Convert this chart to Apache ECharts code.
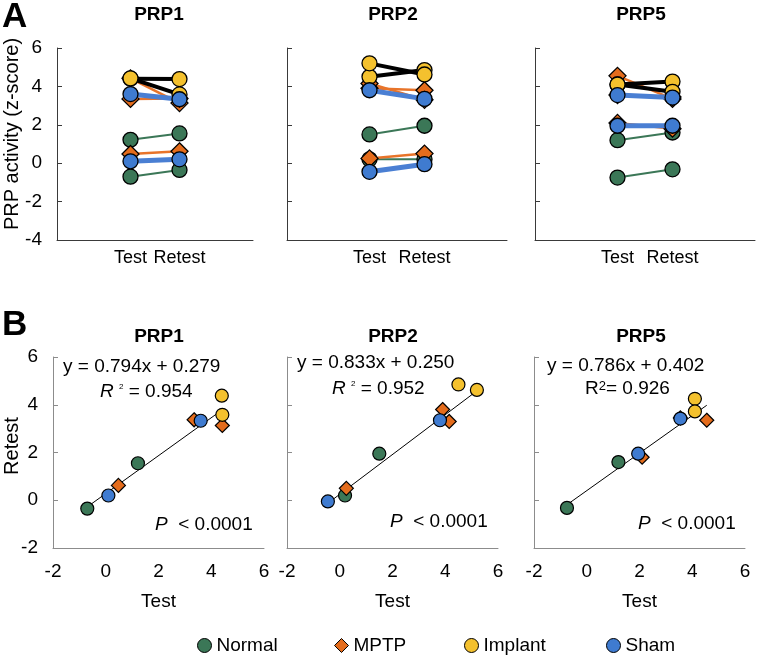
<!DOCTYPE html>
<html><head><meta charset="utf-8">
<script src="https://cdn.jsdelivr.net/npm/echarts@6/dist/echarts.min.js"></script>
<style>html,body{margin:0;padding:0;background:#fff}#c{width:757px;height:658px}</style>
</head><body><div id="c"></div>
<script>
// ---- data ----
const panels = ['PRP1', 'PRP2', 'PRP5'];
const groups = ['Normal', 'MPTP', 'Implant', 'Sham'];
const catLabels = ['', 'Test', 'Retest', ''];
const normalTest    = [[1.22, -0.70], [1.50, 0.20], [1.20, -0.75]];
const normalRetest  = [[1.55, -0.35], [1.95, 0.20], [1.60, -0.32]];
const mptpTest      = [[4.42, 3.35, 0.48], [3.90, 4.15, 0.25], [4.55, 3.55, 2.10]];
const mptpRetest    = [[3.13, 3.37, 0.62], [3.80, 3.30, 0.50], [3.35, 3.45, 1.80]];
const implantTest   = [[4.40, 4.42], [4.50, 5.20], [4.10, 4.10]];
const implantRetest = [[4.38, 3.58], [4.85, 4.62], [4.25, 3.72]];
const shamTest      = [[3.60, 0.10], [3.80, -0.45], [3.55, 1.95]];
const shamRetest    = [[3.33, 0.20], [3.35, -0.05], [3.42, 1.95]];
const slopes = [0.794, 0.833, 0.786];
const intercepts = [0.279, 0.250, 0.402];
const r2Values = ['0.954', '0.952', '0.926'];
const pValue = '0.0001';

// ---- styles ----
const FONT = '"Liberation Sans", Arial, sans-serif';
const fill = {Normal: '#3b7757', MPTP: '#e46c1c', Implant: '#f4c12e', Sham: '#3f7bd0'};
const lineCol = {Normal: '#3b7757', MPTP: '#e8742a', Implant: '#000000', Sham: '#4a7fd3'};
const lineW = {Normal: 2, MPTP: 2.5, Implant: 4, Sham: 5};
const sym = {Normal: 'circle', MPTP: 'diamond', Implant: 'circle', Sham: 'circle'};
const zOrd = {Normal: 2, MPTP: 3, Implant: 4, Sham: 5};
const testSets = {Normal: normalTest, MPTP: mptpTest, Implant: implantTest, Sham: shamTest};
const retestSets = {Normal: normalRetest, MPTP: mptpRetest, Implant: implantRetest, Sham: shamRetest};

const topGrids = [
  {left: 57, top: 48, width: 196, height: 192},
  {left: 287, top: 48, width: 220, height: 192},
  {left: 535, top: 48, width: 220, height: 192}
];
const botGrids = [
  {left: 53, top: 357, width: 211, height: 191},
  {left: 287, top: 357, width: 211, height: 191},
  {left: 534, top: 357, width: 211, height: 191}
];

const grid = [], xAxis = [], yAxis = [], series = [];
topGrids.forEach((g, p) => {
  grid.push(Object.assign({containLabel: false}, g));
  xAxis.push({
    gridIndex: p, type: 'category', data: catLabels, boundaryGap: true,
    axisLine: {onZero: false, lineStyle: {color: '#3a3a3a', width: 1}}, axisTick: {show: false},
    axisLabel: {fontSize: 18, color: '#000', fontFamily: FONT, margin: 9, interval: 0},
    splitLine: {show: false}
  });
  yAxis.push({
    gridIndex: p, type: 'value', min: -4, max: 6, interval: 2,
    axisLine: {show: true, onZero: false, lineStyle: {color: '#3a3a3a', width: 1}},
    axisTick: {show: true, inside: true, length: 5, lineStyle: {color: '#3a3a3a'}},
    axisLabel: {show: p === 0, fontSize: 19, color: '#000', fontFamily: FONT, margin: 15},
    splitLine: {show: false}
  });
});
botGrids.forEach((g, p) => {
  grid.push(Object.assign({containLabel: false}, g));
  xAxis.push({
    gridIndex: 3 + p, type: 'value', min: -2, max: 6, interval: 2,
    name: 'Test', nameLocation: 'middle', nameGap: 44,
    nameTextStyle: {fontSize: 19, color: '#000', fontFamily: FONT},
    axisLine: {show: true, onZero: false, lineStyle: {color: '#8c8c8c', width: 1}},
    axisTick: {show: false},
    axisLabel: {fontSize: 19, color: '#000', fontFamily: FONT, margin: 14},
    splitLine: {show: false}
  });
  yAxis.push({
    gridIndex: 3 + p, type: 'value', min: -2, max: 6, interval: 2,
    axisLine: {show: true, onZero: false, lineStyle: {color: '#8c8c8c', width: 1}},
    axisTick: {show: true, inside: true, length: 5, lineStyle: {color: '#8c8c8c'}},
    axisLabel: {show: p === 0, fontSize: 19, color: '#000', fontFamily: FONT, margin: 15},
    splitLine: {show: false}
  });
});

// scatter series first (legend picks them)
panels.forEach((name, p) => {
  groups.forEach(gName => {
    const t = testSets[gName][p], r = retestSets[gName][p];
    series.push({
      type: 'scatter', name: gName, xAxisIndex: 3 + p, yAxisIndex: 3 + p,
      symbol: sym[gName], symbolSize: gName === 'MPTP' ? 14 : 13, z: 10 + zOrd[gName],
      itemStyle: {color: fill[gName], borderColor: '#000', borderWidth: 1.2, opacity: 1},
      emphasis: {disabled: true},
      data: t.map((v, i) => [v, r[i]])
    });
  });
  // regression line across the test range
  const allT = [].concat(...groups.map(gn => testSets[gn][p]));
  const x0 = Math.min(...allT), x1 = Math.max(...allT);
  series.push({
    type: 'line', name: 'fit' + p, xAxisIndex: 3 + p, yAxisIndex: 3 + p,
    showSymbol: false, symbol: 'none', z: 5, silent: true,
    lineStyle: {color: '#000', width: 1},
    data: [[x0, slopes[p] * x0 + intercepts[p]], [x1, slopes[p] * x1 + intercepts[p]]]
  });
});

// test-retest line series
panels.forEach((name, p) => {
  groups.forEach(gName => {
    const t = testSets[gName][p], r = retestSets[gName][p];
    t.forEach((v, i) => {
      series.push({
        type: 'line', name: gName, xAxisIndex: p, yAxisIndex: p,
        symbol: sym[gName], symbolSize: gName === 'MPTP' ? 17 : 15, showSymbol: true,
        z: 10 + zOrd[gName],
        lineStyle: {color: lineCol[gName], width: lineW[gName]},
        itemStyle: {color: fill[gName], borderColor: '#000', borderWidth: 1.3},
        emphasis: {disabled: true},
        data: [[1, v], [2, r[i]]]
      });
    });
  });
});

const legendX = [192, 329, 459, 601];
const legend = groups.map((gName, i) => ({
  data: [{name: gName, icon: sym[gName],
          itemStyle: {color: fill[gName], borderColor: '#000', borderWidth: 1}}],
  left: legendX[i], top: 631, itemWidth: 14, itemHeight: 14, itemGap: 0,
  selectedMode: false,
  textStyle: {fontSize: 19, color: '#000', fontFamily: FONT}
}));

const titleCenters = [159, 393, 641];
const graphic = [];
graphic.push({type: 'text', x: 2, y: 0, style: {text: 'A', fontSize: 35, fontWeight: 'bold', fontFamily: FONT, fill: '#000'}});
graphic.push({type: 'text', x: 2, y: 308, style: {text: 'B', fontSize: 35, fontWeight: 'bold', fontFamily: FONT, fill: '#000'}});
panels.forEach((name, p) => {
  graphic.push({type: 'text', x: titleCenters[p], y: 15, style: {text: name, fontSize: 19, fontWeight: 'bold', fontFamily: FONT, fill: '#000', align: 'center', verticalAlign: 'middle'}});
  graphic.push({type: 'text', x: titleCenters[p], y: 337, style: {text: name, fontSize: 19, fontWeight: 'bold', fontFamily: FONT, fill: '#000', align: 'center', verticalAlign: 'middle'}});
});
graphic.push({type: 'text', x: 12, y: 134, rotation: Math.PI / 2,
  style: {text: 'PRP activity (z-score)', fontSize: 20, fontFamily: FONT, fill: '#000', align: 'center', verticalAlign: 'middle'}});
graphic.push({type: 'text', x: 12, y: 446, rotation: Math.PI / 2,
  style: {text: 'Retest', fontSize: 20, fontFamily: FONT, fill: '#000', align: 'center', verticalAlign: 'middle'}});

const eqPos = [[63, 367], [297, 363], [547, 366]];
const rPos = [[100, 392], [332, 389], [585, 389]];
const pPos = [[155, 525], [390, 522], [638, 524]];
const rich = {
  it: {fontStyle: 'italic', fontSize: 19, fontFamily: FONT, fill: '#000'},
  n: {fontSize: 19, fontFamily: FONT, fill: '#000'},
  sup: {fontSize: 8, fontFamily: FONT, fill: '#000', verticalAlign: 'top'},
  sup2: {fontSize: 13, fontFamily: FONT, fill: '#000', verticalAlign: 'top'}
};
panels.forEach((name, p) => {
  graphic.push({type: 'text', x: eqPos[p][0], y: eqPos[p][1],
    style: {text: 'y = ' + slopes[p].toFixed(3) + 'x + ' + intercepts[p].toFixed(3), fontSize: 19, fontFamily: FONT, fill: '#000', verticalAlign: 'middle'}});
  const rt = p < 2 ? '{it|R}{n| }{sup|2}{n| = ' + r2Values[p] + '}' : '{n|R}{sup2|2}{n|= ' + r2Values[p] + '}';
  graphic.push({type: 'text', x: rPos[p][0], y: rPos[p][1],
    style: {text: rt, rich: rich, fontSize: 19, fontFamily: FONT, fill: '#000', verticalAlign: 'middle'}});
  graphic.push({type: 'text', x: pPos[p][0], y: pPos[p][1],
    style: {text: '{it|P}{n|  < ' + pValue + '}', rich: rich, fontSize: 19, fontFamily: FONT, fill: '#000', verticalAlign: 'middle'}});
});

const chart = echarts.init(document.getElementById('c'), null, {renderer: 'canvas'});
chart.setOption({
  animation: false,
  backgroundColor: '#fff',
  grid, xAxis, yAxis, series, legend, graphic
});
</script>
</body></html>
